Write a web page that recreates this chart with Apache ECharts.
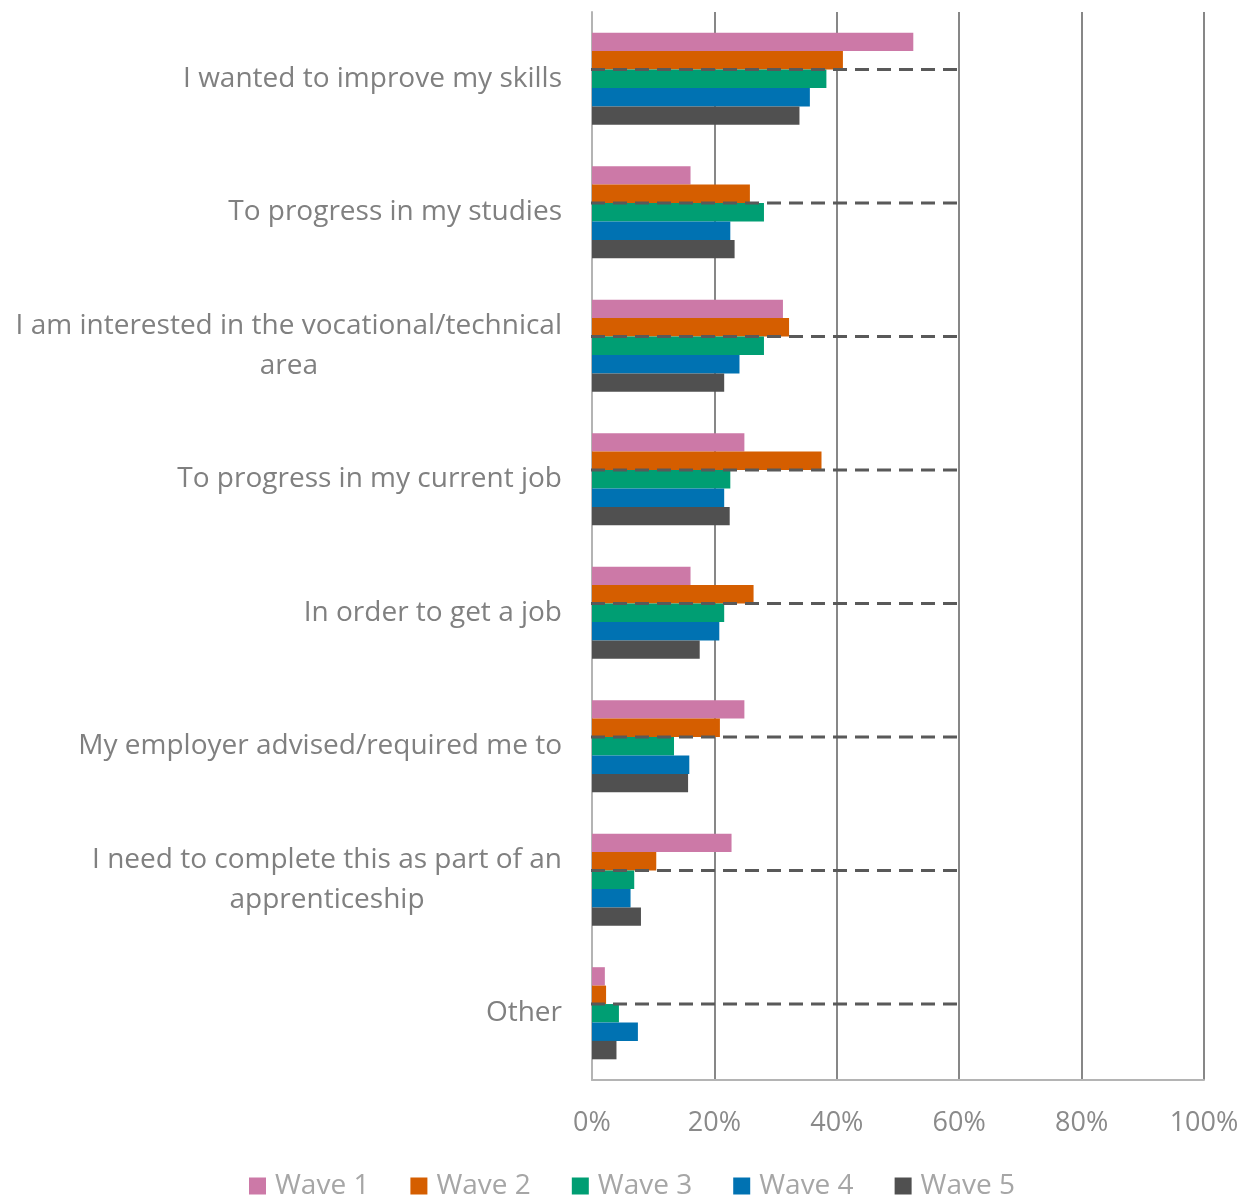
<!DOCTYPE html>
<html>
<head>
<meta charset="utf-8">
<script src="https://cdn.jsdelivr.net/npm/echarts@6/dist/echarts.min.js"></script>
<style>
  html, body { margin: 0; padding: 0; background: #ffffff; }
  #chart { width: 1255px; height: 1201px; }
</style>
</head>
<body>
<div id="chart"></div>
<script>
// Reasons for taking the course, share of respondents per survey wave
const categories = [
  'I wanted to improve my skills',
  'To progress in my studies',
  'I am interested in the vocational/technical\narea',
  'To progress in my current job',
  'In order to get a job',
  'My employer advised/required me to',
  'I need to complete this as part of an\napprenticeship',
  'Other'
];
const waveNames = ['Wave 1', 'Wave 2', 'Wave 3', 'Wave 4', 'Wave 5'];
const wave1 = [52.5, 16.1, 31.2, 24.9, 16.1, 24.9, 22.8, 2.1];
const wave2 = [41.0, 25.8, 32.2, 37.5, 26.4, 20.9, 10.5, 2.3];
const wave3 = [38.3, 28.1, 28.1, 22.6, 21.6, 13.4, 6.9, 4.4];
const wave4 = [35.6, 22.6, 24.1, 21.6, 20.8, 15.9, 6.3, 7.5];
const wave5 = [33.9, 23.3, 21.6, 22.5, 17.6, 15.7, 8.0, 4.0];
const xTicks = [0, 20, 40, 60, 80, 100];
// Extent of the dashed guide drawn through each category (percent)
const guideExtent = 60;

const waveValues = [wave1, wave2, wave3, wave4, wave5];
const waveColors = ['#CC79A7', '#D55E00', '#009E73', '#0072B2', '#505050'];
const FONT = '"Open Sans", "Liberation Sans", sans-serif';
const CATEGORY_GAP = 0.31;

const chart = echarts.init(document.getElementById('chart'), null, { renderer: 'canvas' });

const barSeries = waveNames.map((name, i) => ({
  name: name,
  type: 'bar',
  data: waveValues[i],
  barGap: '0%',
  barCategoryGap: (CATEGORY_GAP * 100) + '%',
  itemStyle: { color: waveColors[i] },
  z: 2
}));

const guideSeries = {
  type: 'custom',
  name: 'guide',
  data: categories.map((c, i) => [guideExtent, i]),
  encode: { x: 0, y: 1 },
  silent: true,
  z: 5,
  renderItem: function (params, api) {
    const idx = api.value(1);
    const start = api.coord([0, idx]);
    const end = api.coord([api.value(0), idx]);
    const band = api.size([0, 1])[1];
    const barH = band * (1 - CATEGORY_GAP) / waveNames.length;
    const y = start[1] - barH / 2;
    return {
      type: 'line',
      shape: { x1: start[0] - 1, y1: y, x2: end[0] + 3, y2: y },
      style: { stroke: '#595959', lineWidth: 3, lineDash: [14, 8] }
    };
  }
};

chart.setOption({
  backgroundColor: '#ffffff',
  animation: false,
  grid: { left: 592, right: 51, top: 12, bottom: 121, containLabel: false },
  legend: {
    data: waveNames,
    bottom: -4,
    left: 244,
    itemWidth: 17,
    itemHeight: 17,
    itemGap: 41,
    icon: 'rect',
    textStyle: { color: '#a6a6a6', fontSize: 28, fontFamily: FONT, padding: [0, 0, 0, 4] }
  },
  xAxis: {
    type: 'value',
    min: 0,
    max: 100,
    interval: 20,
    axisLine: { show: true, lineStyle: { color: '#b4b4b4', width: 2 } },
    axisTick: { show: false },
    splitLine: { show: true, lineStyle: { color: '#878787', width: 2 } },
    axisLabel: {
      margin: 30,
      color: '#8a8a8a',
      fontSize: 27,
      fontFamily: FONT,
      formatter: function (v) { return xTicks.indexOf(v) >= 0 ? v + '%' : ''; }
    }
  },
  yAxis: {
    type: 'category',
    data: categories,
    inverse: true,
    axisLine: { show: true, lineStyle: { color: '#b4b4b4', width: 2 } },
    axisTick: { show: false },
    splitLine: { show: false },
    axisLabel: {
      margin: 30,
      color: '#808080',
      fontSize: 28,
      fontFamily: FONT,
      lineHeight: 40,
      formatter: function (v) {
        return v.split('\n').map(line => '{c|' + line + '}').join('\n');
      },
      rich: {
        c: { align: 'center', color: '#808080', fontSize: 28, fontFamily: FONT, lineHeight: 40 }
      }
    }
  },
  series: barSeries.concat([guideSeries])
});
</script>
</body>
</html>
